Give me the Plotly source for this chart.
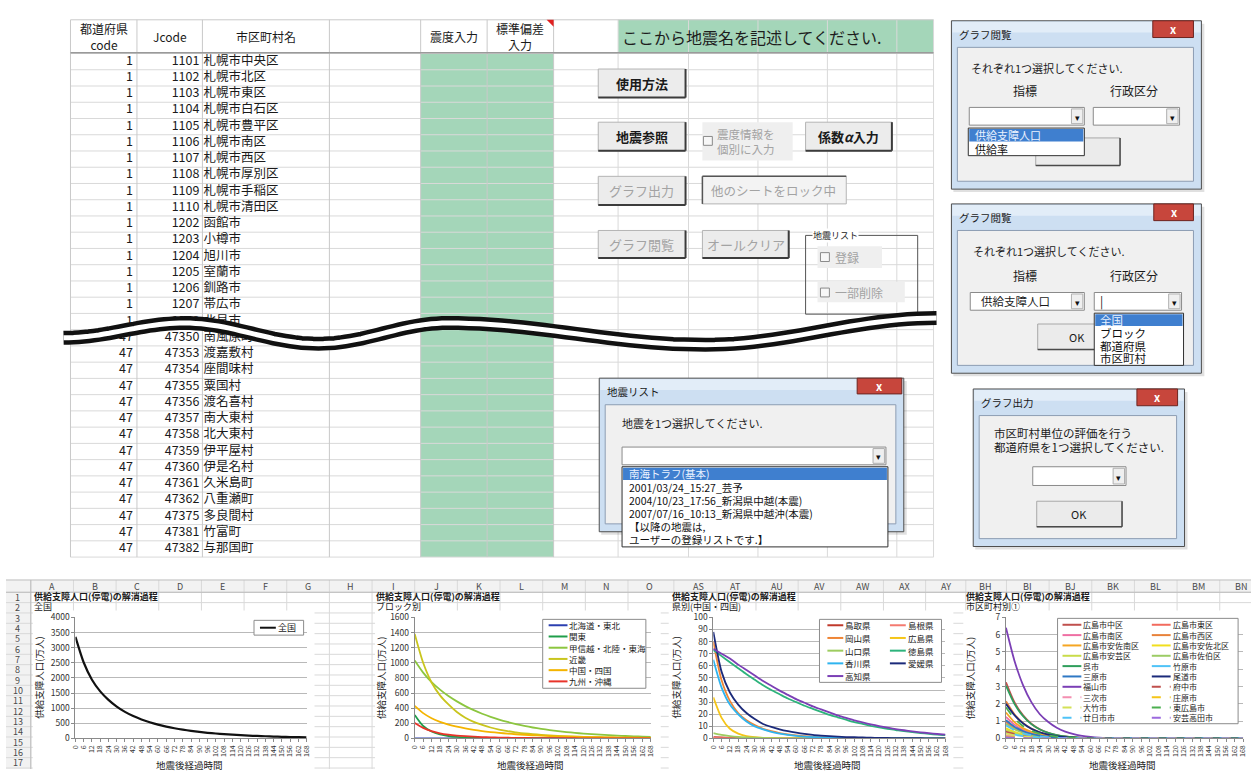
import math
import plotly.graph_objects as go

W, H = 1255, 774
FONT = "Noto Sans CJK JP"

# ---------------- municipality table (upper sheet) ----------------
pref_top = [1, 1, 1, 1, 1, 1, 1, 1, 1, 1, 1, 1, 1, 1, 1, 1, 1]
jcode_top = [1101, 1102, 1103, 1104, 1105, 1106, 1107, 1108, 1109, 1110,
             1202, 1203, 1204, 1205, 1206, 1207, 1208]
name_top = ["札幌市中央区", "札幌市北区", "札幌市東区", "札幌市白石区", "札幌市豊平区",
            "札幌市南区", "札幌市西区", "札幌市厚別区", "札幌市手稲区", "札幌市清田区",
            "函館市", "小樽市", "旭川市", "室蘭市", "釧路市", "帯広市", "北見市"]
pref_bottom = [47, 47, 47, 47, 47, 47, 47, 47, 47, 47, 47, 47, 47, 47]
jcode_bottom = [47350, 47353, 47354, 47355, 47356, 47357, 47358, 47359,
                47360, 47361, 47362, 47375, 47381, 47382]
name_bottom = ["南風原町", "渡嘉敷村", "座間味村", "粟国村", "渡名喜村", "南大東村",
               "北大東村", "伊平屋村", "伊是名村", "久米島町", "八重瀬町", "多良間村",
               "竹富町", "与那国町"]
header_labels = ["都道府県<br>code", "Jcode", "市区町村名", "", "震度入力", "標準偏差<br>入力"]

# ---------------- recovery curves ----------------
hours = [0, 6, 12, 18, 24, 30, 36, 42, 48, 54, 60, 66, 72, 78, 84, 90, 96,
         102, 108, 114, 120, 126, 132, 138, 144, 150, 156, 162, 168]

national = [3355, 2510, 1941, 1557, 1277, 1055, 880, 741, 630, 535, 457, 391, 337, 291,
            252, 218, 188, 164, 143, 125, 108, 95, 84, 74, 63, 55, 49, 43, 38]

block_names = ["北海道・東北", "関東", "甲信越・北陸・東海", "近畿", "中国・四国", "九州・沖縄"]
block_colors = ["#2b3fb0", "#1f9e4a", "#8cc63f", "#c9c51e", "#f4b400", "#e8342a"]
blk_hokkaido_tohoku = [0, 0, 0, 0, 0, 0, 0, 0, 0, 0, 0, 0, 0, 0, 0, 0, 0, 0, 0, 0, 0, 0, 0, 0, 0, 0, 0, 0, 0]
blk_kanto = [310, 165, 92, 54, 33, 21, 14, 9, 6, 4, 3, 2, 1, 1, 1, 0, 0, 0, 0, 0, 0, 0, 0, 0, 0, 0, 0, 0, 0]
blk_chubu = [1030, 870, 745, 645, 560, 490, 428, 374, 327, 286, 250, 218, 190, 166, 145,
             127, 111, 97, 85, 74, 65, 57, 50, 44, 38, 33, 29, 25, 22]
blk_kinki = [1380, 1000, 740, 570, 450, 350, 275, 220, 180, 145, 118, 97, 82, 68, 57,
             48, 40, 34, 29, 25, 21, 18, 16, 14, 12, 10, 9, 8, 7]
blk_chugoku_shikoku = [430, 335, 268, 220, 184, 156, 133, 114, 98, 85, 74, 64, 56, 49, 43,
                       38, 33, 29, 26, 23, 20, 18, 16, 14, 12, 11, 10, 9, 8]
blk_kyushu_okinawa = [205, 140, 96, 68, 50, 38, 30, 24, 19, 15, 12, 10, 8, 7, 6,
                      5, 4, 4, 3, 3, 2, 2, 2, 2, 1, 1, 1, 1, 1]

pref_names = ["鳥取県", "島根県", "岡山県", "広島県", "山口県", "徳島県", "香川県", "愛媛県", "高知県"]
pref_colors = ["#c0392b", "#f47a70", "#ef8535", "#f5c518", "#9dcc5f", "#2db37c", "#2fb4ef", "#1b2a7a", "#7b3fb5"]
pf_tottori = [1.2, 0.8, 0.5, 0.3, 0.2, 0.1, 0, 0, 0, 0, 0, 0, 0, 0, 0, 0, 0, 0, 0, 0, 0, 0, 0, 0, 0, 0, 0, 0, 0]
pf_shimane = [0.5, 0.3, 0.2, 0.1, 0, 0, 0, 0, 0, 0, 0, 0, 0, 0, 0, 0, 0, 0, 0, 0, 0, 0, 0, 0, 0, 0, 0, 0, 0]
pf_okayama = [80, 48, 31, 21, 15, 11, 8, 6, 4.5, 3.3, 2.5, 1.9, 1.4, 1.0, 0.8, 0.6, 0.4, 0.3,
              0.2, 0.2, 0.1, 0.1, 0.1, 0, 0, 0, 0, 0, 0]
pf_hiroshima = [34, 17, 8, 4, 2, 1, 0.5, 0.3, 0.2, 0.1, 0, 0, 0, 0, 0, 0, 0, 0, 0, 0, 0, 0, 0, 0, 0, 0, 0, 0, 0]
pf_yamaguchi = [4.5, 3, 2, 1.3, 0.9, 0.6, 0.4, 0.3, 0.2, 0.1, 0, 0, 0, 0, 0, 0, 0, 0, 0, 0, 0, 0, 0, 0, 0, 0, 0, 0, 0]
pf_tokushima = [73, 68, 63, 58, 53, 48.5, 44, 40, 36.5, 33, 30, 27, 24.5, 22, 19.5, 17.5, 15.5,
                13.5, 12, 10.5, 9.2, 8, 7, 6, 5.2, 4.5, 3.8, 3.2, 2.7]
pf_kagawa = [65, 42, 28, 20, 14, 10, 7.5, 5.5, 4, 3, 2.2, 1.6, 1.2, 0.9, 0.7, 0.5, 0.4, 0.3,
             0.2, 0.2, 0.1, 0, 0, 0, 0, 0, 0, 0, 0]
pf_ehime = [88, 55, 38, 28, 21, 16, 12, 9.5, 7.5, 6, 4.8, 3.8, 3, 2.4, 1.9, 1.5, 1.2, 1.0,
            0.8, 0.6, 0.5, 0.4, 0.3, 0.3, 0.2, 0.2, 0.1, 0.1, 0.1]
pf_kochi = [74, 70, 66, 61, 56.5, 52, 47.5, 43.5, 39.5, 36, 32.5, 29.5, 26.5, 24, 21.5, 19, 17,
            15, 13.3, 11.7, 10.3, 9, 7.8, 6.8, 5.9, 5.1, 4.4, 3.7, 3.1]

muni_names = ["広島市中区", "広島市東区", "広島市南区", "広島市西区", "広島市安佐南区",
              "広島市安佐北区", "広島市安芸区", "広島市佐伯区", "呉市", "竹原市",
              "三原市", "尾道市", "福山市", "府中市", "三次市",
              "庄原市", "大竹市", "東広島市", "廿日市市", "安芸高田市"]
muni_colors = ["#c0504d", "#f26b5e", "#ef6fa3", "#e8823a", "#f5a623",
               "#f1df1e", "#c9dc4a", "#9ccc65", "#2e9e5b", "#4fc3f7",
               "#2f78c4", "#1b2a7a", "#7b3fb5", "#c0504d", "#f48fb1",
               "#f5c518", "#d4e157", "#4caf50", "#4fc3f7", "#9c6ade"]
muni_dashes = ["solid"] * 13 + ["dash"] * 7
mu_naka = [3.25, 2.1, 1.35, 0.85, 0.53, 0.33, 0.2, 0.12, 0.07, 0.04, 0.02, 0.01, 0, 0, 0, 0, 0, 0, 0, 0, 0, 0, 0, 0, 0, 0, 0, 0, 0]
mu_higashi = [0.95, 0.6, 0.38, 0.24, 0.15, 0.09, 0.05, 0.03, 0.02, 0.01, 0, 0, 0, 0, 0, 0, 0, 0, 0, 0, 0, 0, 0, 0, 0, 0, 0, 0, 0]
mu_minami = [1.25, 0.8, 0.5, 0.31, 0.19, 0.12, 0.07, 0.04, 0.03, 0.02, 0.01, 0, 0, 0, 0, 0, 0, 0, 0, 0, 0, 0, 0, 0, 0, 0, 0, 0, 0]
mu_nishi = [2.15, 1.4, 0.9, 0.57, 0.36, 0.22, 0.13, 0.08, 0.05, 0.03, 0.02, 0.01, 0, 0, 0, 0, 0, 0, 0, 0, 0, 0, 0, 0, 0, 0, 0, 0, 0]
mu_asaminami = [1.5, 0.95, 0.6, 0.38, 0.23, 0.14, 0.09, 0.05, 0.03, 0.02, 0.01, 0, 0, 0, 0, 0, 0, 0, 0, 0, 0, 0, 0, 0, 0, 0, 0, 0, 0]
mu_asakita = [0.6, 0.38, 0.24, 0.15, 0.09, 0.06, 0.03, 0.02, 0.01, 0, 0, 0, 0, 0, 0, 0, 0, 0, 0, 0, 0, 0, 0, 0, 0, 0, 0, 0, 0]
mu_aki = [0.5, 0.32, 0.2, 0.12, 0.08, 0.05, 0.03, 0.02, 0.01, 0, 0, 0, 0, 0, 0, 0, 0, 0, 0, 0, 0, 0, 0, 0, 0, 0, 0, 0, 0]
mu_saeki = [0.85, 0.54, 0.34, 0.21, 0.13, 0.08, 0.05, 0.03, 0.02, 0.01, 0, 0, 0, 0, 0, 0, 0, 0, 0, 0, 0, 0, 0, 0, 0, 0, 0, 0, 0]
mu_kure = [3.05, 2.0, 1.3, 0.83, 0.52, 0.32, 0.2, 0.12, 0.07, 0.04, 0.02, 0.01, 0, 0, 0, 0, 0, 0, 0, 0, 0, 0, 0, 0, 0, 0, 0, 0, 0]
mu_takehara = [0.35, 0.22, 0.14, 0.09, 0.05, 0.03, 0.02, 0.01, 0, 0, 0, 0, 0, 0, 0, 0, 0, 0, 0, 0, 0, 0, 0, 0, 0, 0, 0, 0, 0]
mu_mihara = [1.05, 0.68, 0.43, 0.27, 0.17, 0.1, 0.06, 0.04, 0.02, 0.01, 0, 0, 0, 0, 0, 0, 0, 0, 0, 0, 0, 0, 0, 0, 0, 0, 0, 0, 0]
mu_onomichi = [2.0, 1.35, 0.88, 0.56, 0.35, 0.22, 0.13, 0.08, 0.05, 0.03, 0.02, 0.01, 0, 0, 0, 0, 0, 0, 0, 0, 0, 0, 0, 0, 0, 0, 0, 0, 0]
mu_fukuyama = [6.4, 4.5, 3.1, 2.1, 1.4, 0.95, 0.62, 0.4, 0.25, 0.15, 0.09, 0.05, 0.03, 0.02, 0.01, 0, 0, 0, 0, 0, 0, 0, 0, 0, 0, 0, 0, 0, 0]
mu_fuchu = [0.4, 0.26, 0.16, 0.1, 0.06, 0.04, 0.02, 0.01, 0, 0, 0, 0, 0, 0, 0, 0, 0, 0, 0, 0, 0, 0, 0, 0, 0, 0, 0, 0, 0]
mu_miyoshi = [0.2, 0.13, 0.08, 0.05, 0.03, 0.02, 0.01, 0, 0, 0, 0, 0, 0, 0, 0, 0, 0, 0, 0, 0, 0, 0, 0, 0, 0, 0, 0, 0, 0]
mu_shobara = [0.12, 0.08, 0.05, 0.03, 0.02, 0.01, 0, 0, 0, 0, 0, 0, 0, 0, 0, 0, 0, 0, 0, 0, 0, 0, 0, 0, 0, 0, 0, 0, 0]
mu_otake = [0.3, 0.19, 0.12, 0.08, 0.05, 0.03, 0.02, 0.01, 0, 0, 0, 0, 0, 0, 0, 0, 0, 0, 0, 0, 0, 0, 0, 0, 0, 0, 0, 0, 0]
mu_higashihiroshima = [1.8, 1.15, 0.72, 0.45, 0.28, 0.17, 0.1, 0.06, 0.04, 0.02, 0.01, 0, 0, 0, 0, 0, 0, 0, 0, 0, 0, 0, 0, 0, 0, 0, 0, 0, 0]
mu_hatsukaichi = [0.75, 0.48, 0.3, 0.19, 0.12, 0.07, 0.04, 0.03, 0.02, 0.01, 0, 0, 0, 0, 0, 0, 0, 0, 0, 0, 0, 0, 0, 0, 0, 0, 0, 0, 0]
mu_akitakata = [0.08, 0.05, 0.03, 0.02, 0.01, 0, 0, 0, 0, 0, 0, 0, 0, 0, 0, 0, 0, 0, 0, 0, 0, 0, 0, 0, 0, 0, 0, 0, 0]

block_series = [blk_hokkaido_tohoku, blk_kanto, blk_chubu, blk_kinki, blk_chugoku_shikoku, blk_kyushu_okinawa]
pref_series = [pf_tottori, pf_shimane, pf_okayama, pf_hiroshima, pf_yamaguchi,
               pf_tokushima, pf_kagawa, pf_ehime, pf_kochi]
muni_series = [mu_naka, mu_higashi, mu_minami, mu_nishi, mu_asaminami, mu_asakita, mu_aki,
               mu_saeki, mu_kure, mu_takehara, mu_mihara, mu_onomichi, mu_fukuyama, mu_fuchu,
               mu_miyoshi, mu_shobara, mu_otake, mu_higashihiroshima, mu_hatsukaichi, mu_akitakata]

# sheet column headings of the lower sheet
col_letters = ["A", "B", "C", "D", "E", "F", "G", "H", "I", "J", "K", "L", "M", "N", "O",
               "AS", "AT", "AU", "AV", "AW", "AX", "AY", "BH", "BI", "BJ", "BK", "BL", "BM", "BN"]
col_centers = [46.5, 89.5, 132.5, 175.5, 218.5, 261.5, 304.5, 347.5, 390.5, 433.5, 476.5,
               519.5, 562.5, 605.5, 648.5, 698, 735, 777, 820, 863, 906, 948, 987, 1030,
               1073, 1116, 1159, 1202, 1245]

shapes = []
annotations = []


def rect(x0, y0, x1, y1, fill=None, line=None, lw=1, layer="below"):
    shapes.append(dict(type="rect", xref="x", yref="y", x0=x0, y0=y0, x1=x1, y1=y1,
                       fillcolor=fill or "rgba(0,0,0,0)",
                       line=dict(color=line or "rgba(0,0,0,0)", width=lw if line else 0),
                       layer=layer))


def seg(x0, y0, x1, y1, color, lw=1, dash="solid", layer="below"):
    shapes.append(dict(type="line", xref="x", yref="y", x0=x0, y0=y0, x1=x1, y1=y1,
                       line=dict(color=color, width=lw, dash=dash), layer=layer))


def text(x, y, s, size=11, color="#1a1a1a", xa="left", ya="middle", angle=0, bg=None, family=FONT):
    a = dict(x=x, y=y, xref="x", yref="y", text=s, showarrow=False, xanchor=xa, yanchor=ya,
             textangle=angle, font=dict(size=size, color=color, family=family),
             borderpad=0)
    if bg:
        a["bgcolor"] = bg
    annotations.append(a)


GREEN = "#a4d6b9"
GRID = "#d9d9d9"

# ---------------- upper sheet grid ----------------
ROW0, ROWH = 47.25, 16.5
n_rows = len(name_top) + len(name_bottom)
rect(418, 47, 552, ROW0 + n_rows * ROWH, fill=GREEN)
rect(617, 13, 935, 46, fill=GREEN)
for i in range(n_rows + 1):
    y = ROW0 + i * ROWH
    seg(65, y, 935, y, GRID)
for x in [617, 688, 758, 828, 898, 935]:
    seg(x, 13, x, ROW0 + n_rows * ROWH, GRID)
for x in [65, 132, 198, 326, 418, 485, 552]:
    seg(x, 13, x, ROW0 + n_rows * ROWH, "#c9c9c9")
seg(65, 13, 935, 13, "#c9c9c9")
seg(65, 46.5, 935, 46.5, "#9a9a9a", 1.5)
shapes.append(dict(type="path", xref="x", yref="y", path="M 545 13 L 552 13 L 552 20 Z",
                   fillcolor="#e02020", line=dict(width=0), layer="below"))

hdr_x = [98.5, 165, 262, 372, 451.5, 518.5]
for hx, lab in zip(hdr_x, header_labels):
    if lab:
        text(hx, 30, lab, size=12, xa="center")
text(620, 30, "ここから地震名を記述してください.", size=16, color="#1d1d1d")

# ---------------- controls on the sheet ----------------


def button(x0, y0, x1, y1, label, enabled=True, bold=True, size=13):
    rect(x0, y0, x1, y1, fill="#ececec", line="#b4b4b4")
    seg(x0, y1, x1, y1, "#3c3c3c", 2)
    seg(x1, y0, x1, y1, "#3c3c3c", 2)
    lab = "<b>%s</b>" % label if bold else label
    text((x0 + x1) / 2, (y0 + y1) / 2, lab, size=size, xa="center",
         color="#1a1a1a" if enabled else "#a3a3a3")


def checkbox(x, y):
    rect(x, y - 4.5, x + 9, y + 4.5, fill="#f7f7f7", line="#8a8a8a")


button(597, 63, 685, 92, "使用方法")
button(597, 117, 685, 146, "地震参照")
button(806, 117, 893, 146, "係数<i>α</i>入力")
button(597, 172, 685, 201, "グラフ出力", enabled=False, bold=False)
button(597, 227, 685, 255, "グラフ閲覧", enabled=False, bold=False)
button(702, 227, 789, 255, "オールクリア", enabled=False, bold=False)
rect(702, 117, 793, 156, fill="#efefef")
checkbox(703, 136)
text(716, 129, "震度情報を", size=11.5, color="#a3a3a3")
text(716, 144, "個別に入力", size=11.5, color="#a3a3a3")
rect(702, 172, 847, 200, fill="#f3f3f3", line="#b4b4b4")
seg(702, 172, 847, 172, "#555555", 1.5)
seg(702, 172, 702, 200, "#555555", 1.5)
text(710, 186, "他のシートをロック中", size=12.5, color="#a3a3a3")
rect(806, 232, 919, 312, line="#555555")
text(812, 232, "地震リスト", size=9, color="#1a1a1a", bg="white")
rect(818, 243, 883, 265, fill="#efefef")
checkbox(821, 254)
text(835, 254, "登録", size=12, color="#a3a3a3")
rect(818, 279, 906, 300, fill="#efefef")
checkbox(821, 290)
text(835, 290, "一部削除", size=12, color="#a3a3a3")

# ---------------- dialog windows ----------------


def dialog(x0, y0, x1, y1, title, cx0, cx1, ch):
    rect(x0 + 2, y0 + 3, x1 + 3, y1 + 3, fill="rgba(0,0,0,0.12)")
    rect(x0, y0, x1, y1, fill="#cddff2", line="#4f4f4f")
    rect(x0 + 1, y0 + 1, x1 - 1, y0 + 12, fill="#e2edf8")
    rect(x0 + 6, y0 + 27, x1 - 8, y1 - 8, fill="#f0f0f0", line="#8d9db3")
    rect(cx0, y0, cx1, y0 + ch, fill="#c7463c", line="#6d2520")
    text((cx0 + cx1) / 2, y0 + ch / 2, "<b>x</b>", size=11, color="white", xa="center")
    text(x0 + 7, y0 + 14, title, size=10.5)


def combo(x0, y0, x1, y1, label=None):
    rect(x0, y0, x1, y1, fill="white", line="#8a8a8a")
    rect(x1 - 13, y0 + 1.5, x1 - 1.5, y1 - 1.5, fill="#efefef", line="#b0b0b0")
    text(x1 - 7.2, (y0 + y1) / 2 + 1, "▾", size=9, xa="center", color="#111")
    if label:
        text(x0 + 10, (y0 + y1) / 2, label, size=11.5)


def droplist(x0, y0, x1, items, rowh, size=11, pad=6):
    y1 = y0 + rowh * len(items) + 1
    rect(x0, y0, x1, y1, fill="white", line="#303030")
    rect(x0 + 1, y0 + 1, x1 - 1, y0 + rowh, fill="#3f7fcf")
    for k, it in enumerate(items):
        text(x0 + pad, y0 + rowh * k + rowh / 2 + 0.5, it, size=size,
             color="#eaf2ff" if k == 0 else "#111")


def okbutton(x0, y0, x1, y1, label="OK"):
    rect(x0, y0, x1, y1, fill="#ebebeb", line="#a8a8a8")
    seg(x0, y1, x1, y1, "#4a4a4a", 1.5)
    seg(x1, y0, x1, y1, "#4a4a4a", 1.5)
    if label:
        text((x0 + x1) / 2, (y0 + y1) / 2, label, size=11, xa="center")


dialog(953, 14, 1205, 185, "グラフ閲覧", 1156, 1197, 17)
text(972, 62, "それぞれ1つ選択してください.", size=11)
text(1027, 85, "指標", size=12, xa="center")
text(1137, 85, "行政区分", size=12, xa="center")
okbutton(1038, 133, 1123, 161, label=None)
combo(971, 102, 1087, 120)
combo(1096, 102, 1183, 120)
droplist(970, 123, 1087, ["供給支障人口", "供給率"], 13.5)

dialog(953, 200, 1205, 372, "グラフ閲覧", 1157, 1197, 17)
text(974, 248, "それぞれ1つ選択してください.", size=11)
text(1027, 273, "指標", size=12, xa="center")
text(1137, 273, "行政区分", size=12, xa="center")
okbutton(1040, 322, 1120, 348)
combo(972, 290, 1087, 308, "供給支障人口")
combo(1097, 290, 1185, 308)
text(1102, 299, "|", size=12)
droplist(1097, 311, 1187, ["全国", "ブロック", "都道府県", "市区町村"], 13, size=11.5, pad=5)

dialog(598, 377, 905, 533, "地震リスト", 858, 903, 16)
text(620, 423, "地震を1つ選択してください.", size=11)
combo(621, 447, 887, 465)
droplist(621, 467, 889, ["南海トラフ(基本)", "2001/03/24_15:27_芸予",
                          "2004/10/23_17:56_新潟県中越(本震)", "2007/07/16_10:13_新潟県中越沖(本震)",
                          "【以降の地震は,", "ユーザーの登録リストです.】"], 13.4, size=10.5)

dialog(975, 388, 1188, 548, "グラフ出力", 1140, 1181, 17)
text(995, 433, "市区町村単位の評価を行う", size=11.5)
text(995, 447, "都道府県を1つ選択してください.", size=11.5)
combo(1035, 467, 1129, 486)
okbutton(1039, 502, 1125, 528)

# ---------------- wavy break line across the table ----------------
wave_ext = [(58, 336), (180, 321), (315, 342), (445, 321), (705, 343), (938, 316)]
pts = []
for (xa_, ya_), (xb_, yb_) in zip(wave_ext[:-1], wave_ext[1:]):
    for k in range(24):
        t = k / 24
        pts.append((xa_ + (xb_ - xa_) * t, ya_ + (yb_ - ya_) * (1 - math.cos(math.pi * t)) / 2))
pts.append(wave_ext[-1])
wave_path = "M " + " L ".join("%.1f %.1f" % p for p in pts)
shapes.append(dict(type="path", xref="x", yref="y", path=wave_path,
                   line=dict(color="#111111", width=14), layer="above"))
shapes.append(dict(type="path", xref="x", yref="y", path=wave_path,
                   line=dict(color="white", width=5), layer="above"))

# ---------------- lower sheet grid ----------------
HDR0, HDR1 = 582, 594.5
RH = 10.5
rect(0, HDR0, W, HDR1, fill="#f2f2f2")
rect(0, HDR1, 25, H, fill="#f2f2f2")
for r in range(18):
    y = HDR1 + r * RH
    seg(0, y, W, y, GRID)
bounds = [25] + [(a + b) / 2 for a, b in zip(col_centers[:-1], col_centers[1:])]
for x in bounds:
    seg(x, HDR0, x, H, GRID)
seg(0, HDR0, W, HDR0, "#bdbdbd")
seg(0, HDR1, W, HDR1, "#bdbdbd")
seg(25, HDR0, 25, H, "#bdbdbd")
for lt, cx in zip(col_letters, col_centers):
    text(cx, (HDR0 + HDR1) / 2, lt, size=9, xa="center", color="#4a4a4a")
for r in range(17):
    text(12, HDR1 + r * RH + RH / 2, str(r + 1), size=9, xa="center", color="#4a4a4a")

# chart objects (white areas on the lower sheet)
chart_boxes = [(27, 613, 311, H), (372, 613, 660, H), (668, 613, 955, H), (965, 613, W, H)]
for bx in chart_boxes:
    rect(*bx, fill="white")

chart_titles = [(27, "全国"), (372, "ブロック別"), (670, "県別(中国・四国)"), (967, "市区町村別①")]
for tx, sub in chart_titles:
    text(tx, 598.5, "<b>供給支障人口(停電)の解消過程</b>", size=9)
    text(tx, 609, sub, size=9)

plots = [(70, 303, 4000, 500), (412, 650, 1600, 200), (713, 947, 100, 10), (1008, 1247, 7, 1)]
PY0, PY1 = 620, 743
ytitle_x = [33, 378, 675, 972]
for (px0, px1, _, _), yx in zip(plots, ytitle_x):
    text(yx, (PY0 + PY1) / 2, "供給支障人口(万人)", size=9.5, xa="center", angle=-90)
    text((px0 + px1) / 2 - 2, 770, "地震後経過時間", size=9.5, xa="center")

fig = go.Figure()
# hidden full-page axes carry the sheet text
row_y = [ROW0 + ROWH * (i + 0.5) for i in range(n_rows)]
all_pref = pref_top + pref_bottom
all_jcode = jcode_top + jcode_bottom
all_name = name_top + name_bottom
tf = dict(family=FONT, size=12.5, color="#1a1a1a")
fig.add_trace(go.Scatter(x=[128] * n_rows, y=row_y, text=[str(v) for v in all_pref],
                         mode="text", textposition="middle left", textfont=tf,
                         hoverinfo="skip", showlegend=False, cliponaxis=False))
fig.add_trace(go.Scatter(x=[195] * n_rows, y=row_y, text=[str(v) for v in all_jcode],
                         mode="text", textposition="middle left", textfont=tf,
                         hoverinfo="skip", showlegend=False, cliponaxis=False))
fig.add_trace(go.Scatter(x=[199] * n_rows, y=row_y, text=all_name,
                         mode="text", textposition="middle right", textfont=tf,
                         hoverinfo="skip", showlegend=False, cliponaxis=False))


def add_lines(n, series, names, colors, dashes, width):
    for s, nm, c, d in zip(series, names, colors, dashes):
        fig.add_trace(go.Scatter(x=hours, y=s, name=nm, mode="lines",
                                 line=dict(color=c, width=width, dash=d, shape="spline", smoothing=0.7),
                                 xaxis="x%d" % n, yaxis="y%d" % n,
                                 hoverinfo="skip", showlegend=False))


add_lines(2, [national], ["全国"], ["#111111"], ["solid"], 2.2)
add_lines(3, block_series, block_names, block_colors, ["solid"] * 6, 1.8)
add_lines(4, pref_series, pref_names, pref_colors, ["solid"] * 9, 1.8)
add_lines(5, muni_series, muni_names, muni_colors, muni_dashes, 1.8)


# chart legends: opaque boxed keys drawn over the plot areas
def legend_box(x0, y0, x1, y1, names, colors, dashes, cols, col_x, row_y0, row_h, line_len, size):
    rect(x0, y0, x1, y1, fill="white", line="#8c8c8c", layer="above")
    for k, (nm, c, d) in enumerate(zip(names, colors, dashes)):
        r, cidx = divmod(k, cols)
        lx = col_x[cidx]
        ly = row_y0 + r * row_h
        seg(lx, ly, lx + line_len, ly, c, 2, dash="dash" if d == "dash" else "solid", layer="above")
        text(lx + line_len + 1, ly, nm, size=size)


legend_box(250, 623, 300, 638, ["全国"], ["#111111"], ["solid"], 1, [256], 630.5, 0, 16, 9)
legend_box(541, 622, 645, 692, block_names, block_colors, ["solid"] * 6, 1, [547], 628, 11.4, 19, 8.5)
legend_box(820, 622, 943, 686, pref_names, pref_colors, ["solid"] * 9, 2, [828, 891], 628, 12.9, 16, 8.5)
legend_box(1060, 621, 1242, 728, muni_names, muni_colors, muni_dashes, 2, [1065, 1155], 627.5, 10.5, 19, 8)

layout = dict(
    width=W, height=H, margin=dict(l=0, r=0, t=0, b=0),
    paper_bgcolor="white", plot_bgcolor="white", showlegend=False,
    font=dict(family=FONT, color="#1a1a1a"),
    xaxis=dict(domain=[0, 1], range=[0, W], visible=False, fixedrange=True),
    yaxis=dict(domain=[0, 1], range=[H, 0], visible=False, fixedrange=True),
    shapes=shapes, annotations=annotations,
)
for n, (px0, px1, ymax, dt) in zip([2, 3, 4, 5], plots):
    layout["xaxis%d" % n] = dict(
        domain=[px0 / W, px1 / W], range=[0, 168], anchor="y%d" % n,
        tickmode="array", tickvals=hours, ticktext=[str(h) for h in hours],
        tickangle=-90, tickfont=dict(size=7, family=FONT, color="#333"),
        showgrid=False, showline=True, linecolor="#8a8a8a", linewidth=1,
        ticks="outside", ticklen=3, tickcolor="#8a8a8a", zeroline=False, fixedrange=True)
    layout["yaxis%d" % n] = dict(
        domain=[1 - PY1 / H, 1 - PY0 / H], range=[0, ymax], anchor="x%d" % n,
        dtick=dt, tick0=0, tickfont=dict(size=8.5, family=FONT, color="#333"),
        showgrid=True, gridcolor="#b9b9b9", gridwidth=1,
        showline=True, linecolor="#8a8a8a", ticks="outside", ticklen=3,
        tickcolor="#8a8a8a", zeroline=False, fixedrange=True)

fig.update_layout(**layout)
fig.write_html("out.html")
